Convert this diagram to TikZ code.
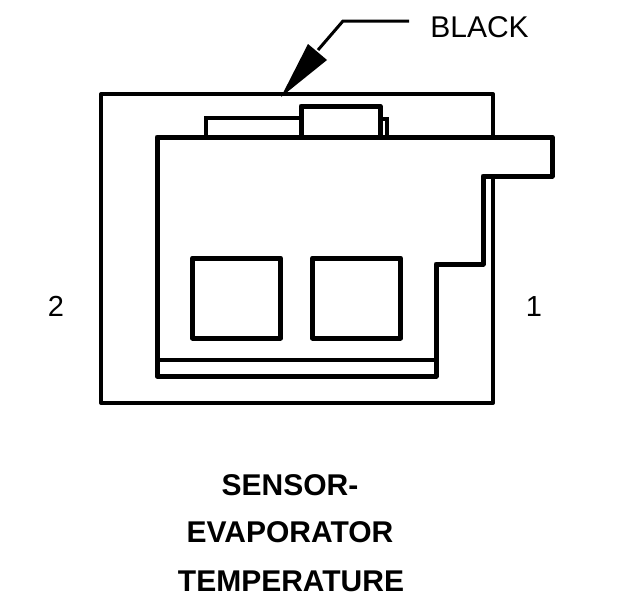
\documentclass[tikz,border=0pt]{standalone}
\usepackage{fontspec}
\setmainfont{Liberation Sans}
\tikzset{
  thinline/.style={line width=3.9pt,line join=round},
  thickline/.style={line width=5pt,line join=round,line cap=round},
  tabline/.style={line width=3.2pt},
  leader/.style={line width=3pt,line join=miter},
  plain/.style={font=\fontsize{30}{34}\selectfont,inner sep=0pt,anchor=center},
  title/.style={font=\fontsize{30}{34}\selectfont\bfseries,inner sep=0pt,anchor=center},
  pin/.style={font=\fontsize{29}{34}\selectfont,inner sep=0pt,anchor=center}
}
\begin{document}
\begin{tikzpicture}[x=1pt,y=-1pt]
\useasboundingbox (0,0) rectangle (624,600);
\fill[white] (0,0) rectangle (624,600);
% housing
\draw[thinline] (101,94) rectangle (493,403);
% top tabs
\draw[tabline] (206,137) -- (206,118) -- (301,118);
\draw[tabline] (380,119) -- (387,119) -- (387,137);
\draw[thickline] (301,137) -- (301,106) -- (380,106) -- (380,137);
% connector body
\draw[thickline,fill=white] (157,137) -- (552,137) -- (552,176) -- (483,176) -- (483,264) -- (436,264) -- (436,376) -- (157,376) -- cycle;
\draw[thinline] (493,137) -- (493,94);
\draw[thinline] (157,360) -- (436,360);
% cavities
\draw[thickline] (192.5,258) rectangle (280.5,338);
\draw[thickline] (312.5,258) rectangle (400.5,338);
% leader
\node[plain] (black) at (479.5,27) {BLACK};
\coordinate (leadstart) at (409,21);
\coordinate (leadbend) at (343,21);
\coordinate (headbase) at (318,50);
\coordinate (tip) at (281,97);
\draw[leader] (leadstart) -- (leadbend) -- (headbase);
\fill (tip) -- (308,44) -- (327,60) -- cycle;
% labels
\node[pin] (two) at (56,306) {2};
\node[pin] (one) at (534,307) {1};
\node[title] (t1) at (290,485) {SENSOR-};
\node[title] (t2) at (290,532) {EVAPORATOR};
\node[title] (t3) at (291,581) {TEMPERATURE};
\end{tikzpicture}
\end{document}
